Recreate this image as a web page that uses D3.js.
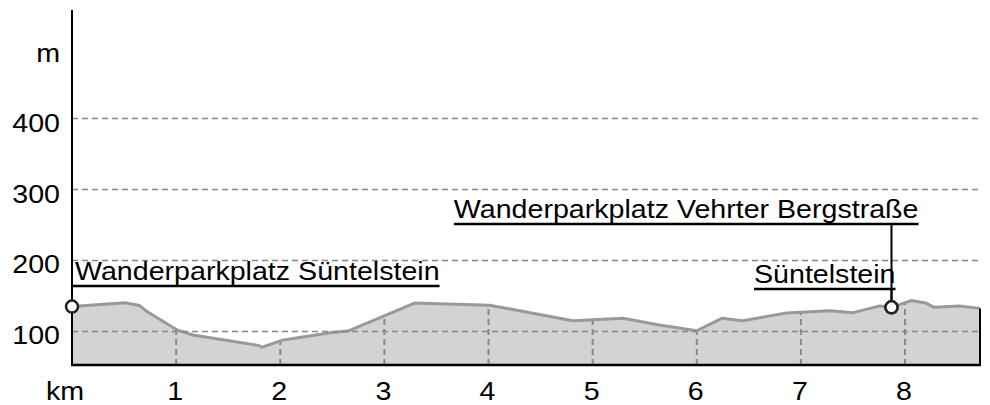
<!DOCTYPE html>
<html>
<head>
<meta charset="utf-8">
<script src="https://cdn.jsdelivr.net/npm/d3@7"></script>
<style>
  body { margin: 0; background: #fff; }
  text { font-family: "Liberation Sans", Arial, sans-serif; font-size: 26px; fill: #000; }
</style>
</head>
<body>
<div id="chart"></div>
<script>
// profile data (distance in km, elevation in m)
var distKm = [0, 0.51, 0.65, 0.72, 1.01, 1.16, 1.80, 1.82, 2.03, 2.48, 2.65, 3.29, 4.01, 4.81, 5.29, 5.64,
  6.00, 6.24, 6.44, 6.86, 7.28, 7.50, 7.76, 7.87, 8.06, 8.20, 8.28, 8.52, 8.72];
var elevM = [135, 140.5, 136.5, 128, 102, 95, 80, 77.5, 88, 98, 100.5, 140, 137, 115, 118.5, 109,
  101, 118.5, 115, 126, 129, 126.5, 136, 134, 143.5, 140, 134, 136, 132.5];

var yTicks = [100, 200, 300, 400];
var xTicks = [1, 2, 3, 4, 5, 6, 7, 8];

// waypoints
var wpNames = ["Wanderparkplatz Süntelstein", "Wanderparkplatz Vehrter Bergstraße", "Süntelstein"];
var wpKm = [0, 7.87, 7.87];
var wpElev = [135, 134, 134];

var svgWidth = 990;
var svgHeight = 405;
var sx = 1.1; // text is drawn slightly wider

// label layout: underline y, text anchor side, shift from point
var wpLayout = [
  { lineY: 286, anchor: "start", dx: 3 },
  { lineY: 224, anchor: "end", dx: 27 },
  { lineY: 289, anchor: "end", dx: 4 }
];

var svg = d3.select("#chart").append("svg")
  .attr("width", svgWidth)
  .attr("height", svgHeight);

var x = d3.scaleLinear().domain([0, 8.72]).range([72, 980]);
var y = d3.scaleLinear().domain([52.7, 553]).range([365, 10]);

var data = distKm.map(function(d, i) { return { km: d, m: elevM[i] }; });

var area = d3.area()
  .x(function(d) { return x(d.km); })
  .y0(y(52.7))
  .y1(function(d) { return y(d.m); });

var line = d3.line()
  .x(function(d) { return x(d.km); })
  .y(function(d) { return y(d.m); });

// clip for vertical grid lines inside the profile
svg.append("clipPath").attr("id", "profClip")
  .append("path").attr("d", area(data));

svg.append("path")
  .attr("d", area(data))
  .attr("fill", "#d3d3d3");

svg.append("g").attr("clip-path", "url(#profClip)")
  .selectAll("line")
  .data(xTicks)
  .enter().append("line")
  .attr("x1", d => x(d)).attr("x2", d => x(d))
  .attr("y1", y(52.7)).attr("y2", y(200))
  .attr("stroke", "#888")
  .attr("stroke-width", 2)
  .attr("stroke-dasharray", "6,4");

svg.append("path")
  .attr("d", line(data))
  .attr("fill", "none")
  .attr("stroke", "#999")
  .attr("stroke-width", 3)
  .attr("stroke-linejoin", "round");

// horizontal grid lines
svg.append("g").selectAll("line")
  .data(yTicks)
  .enter().append("line")
  .attr("x1", x(0)).attr("x2", x(8.72))
  .attr("y1", d => y(d)).attr("y2", d => y(d))
  .attr("stroke", "#888")
  .attr("stroke-width", 1.5)
  .attr("stroke-dasharray", "6,4");

// right edge of profile
var last = data[data.length - 1];
svg.append("line")
  .attr("x1", x(last.km)).attr("x2", x(last.km))
  .attr("y1", y(last.m)).attr("y2", y(52.7))
  .attr("stroke", "#000").attr("stroke-width", 2);

// axes
svg.append("line")
  .attr("x1", x(0)).attr("x2", x(0))
  .attr("y1", y(553)).attr("y2", y(52.7))
  .attr("stroke", "#000").attr("stroke-width", 2);
svg.append("line")
  .attr("x1", x(0) - 1).attr("x2", x(8.72) + 1)
  .attr("y1", y(52.7)).attr("y2", y(52.7))
  .attr("stroke", "#000").attr("stroke-width", 2.5);

// y labels
svg.append("g").selectAll("text")
  .data(yTicks)
  .enter().append("text")
  .attr("text-anchor", "end")
  .attr("transform", d => `translate(60, ${y(d) + 13}) scale(${sx},1)`)
  .text(d => d);

svg.append("text")
  .attr("text-anchor", "end")
  .attr("transform", `translate(60, 62) scale(${sx},1)`)
  .text("m");

// x labels
svg.append("g").selectAll("text")
  .data(xTicks)
  .enter().append("text")
  .attr("text-anchor", "middle")
  .attr("transform", d => `translate(${x(d) - 1}, 400) scale(${sx},1)`)
  .text(d => d);

svg.append("text")
  .attr("text-anchor", "middle")
  .attr("transform", `translate(65, 400) scale(${sx},1)`)
  .text("km");

// waypoints
wpNames.forEach(function(name, i) {
  var lay = wpLayout[i];
  var px = x(wpKm[i]);
  var py = y(wpElev[i]);
  var tx = px + lay.dx;
  var t = svg.append("text")
    .attr("text-anchor", lay.anchor)
    .attr("transform", `translate(${tx}, ${lay.lineY - 6}) scale(${sx},1)`)
    .text(name);
  var w = t.node().getComputedTextLength() * sx;
  var x1 = lay.anchor === "start" ? px : tx - w;
  var x2 = lay.anchor === "start" ? tx + w : tx;
  svg.append("line")
    .attr("x1", x1).attr("x2", x2)
    .attr("y1", lay.lineY).attr("y2", lay.lineY)
    .attr("stroke", "#000").attr("stroke-width", 2.5);
  svg.append("line")
    .attr("x1", px).attr("x2", px)
    .attr("y1", lay.lineY).attr("y2", py)
    .attr("stroke", "#000").attr("stroke-width", 2);
});

// waypoint markers on top
svg.append("g").selectAll("circle")
  .data(wpKm)
  .enter().append("circle")
  .attr("cx", d => x(d))
  .attr("cy", (d, i) => y(wpElev[i]))
  .attr("r", 6)
  .attr("fill", "#fff")
  .attr("stroke", "#222")
  .attr("stroke-width", 2.5);
</script>
</body>
</html>
